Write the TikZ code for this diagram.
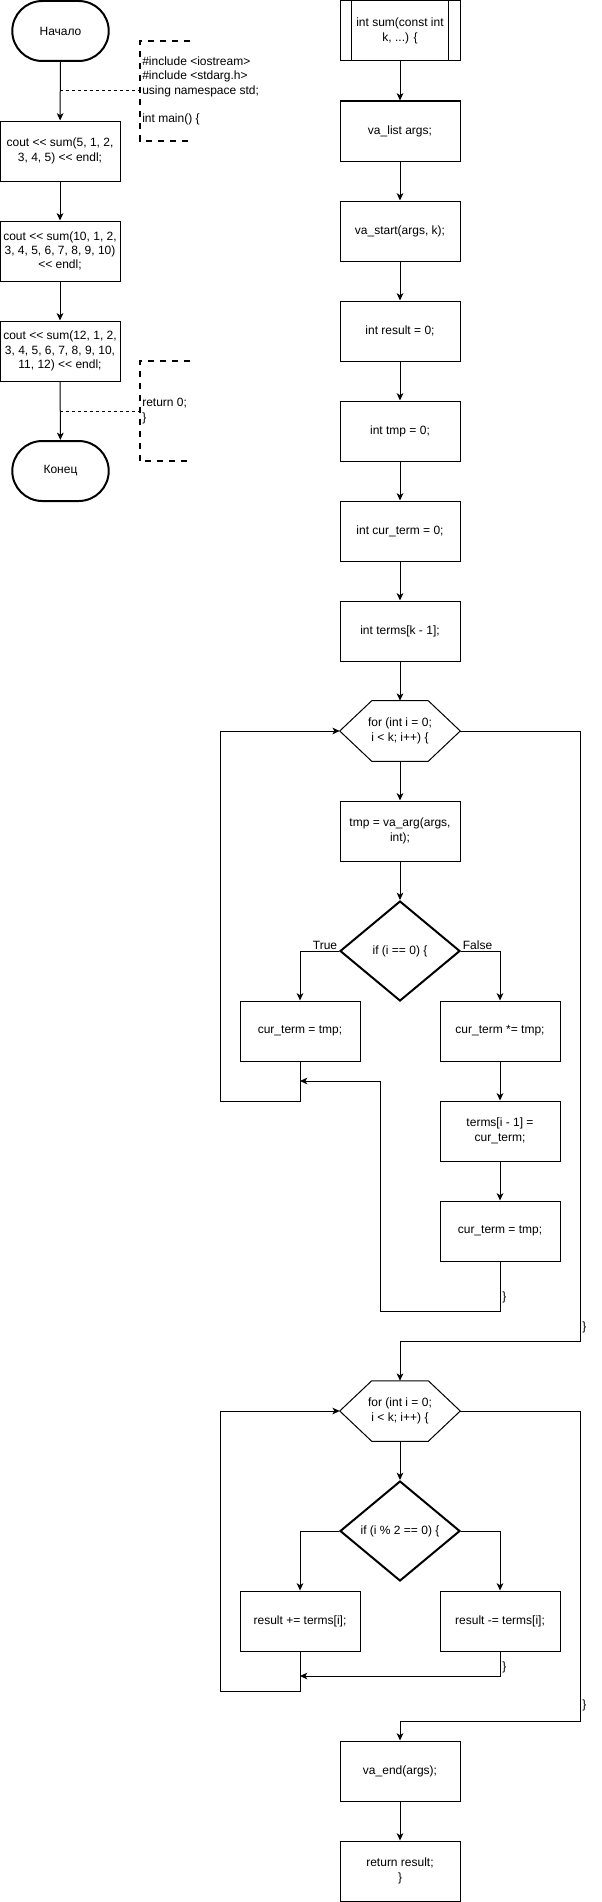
\documentclass[tikz,border=0pt]{standalone}
\usepackage{fontspec}
\setmainfont{Liberation Sans}
\usetikzlibrary{positioning, arrows.meta, shapes.geometric, shapes.misc}
\tikzset{
  every node/.style={font=\fontsize{9}{10.8}\selectfont},
  arr/.style={-{Stealth[length=5.5pt, width=5pt, inset=1.5pt]}, line width=0.75pt},
  dots/.style={line width=0.75pt, dash pattern=on 2.25pt off 2.25pt},
  blk/.style={draw, line width=0.75pt, minimum width=90pt, minimum height=45pt, inner sep=2pt, align=center},
  term/.style={draw, rounded rectangle, line width=1.5pt, minimum width=79pt, minimum height=45pt, align=center},
  cond/.style={draw, diamond, line width=1.5pt, minimum width=90pt, minimum height=75pt, inner sep=0pt, align=center},
  loopbox/.style={minimum width=90pt, minimum height=45pt, inner sep=0pt, align=center},
  note/.style={anchor=west, align=left, inner xsep=1.5pt, inner ysep=0pt},
  noteline/.style={line width=1.5pt, dash pattern=on 4.5pt off 4.5pt},
  brace/.style={anchor=west, inner sep=1.5pt},
}
\newcommand{\shl}{<{}<}
\newcommand{\hexa}[1]{\draw[line width=0.75pt] (#1.west) -- ([xshift=24pt]#1.north west)
  -- ([xshift=-24pt]#1.north east) -- (#1.east) -- ([xshift=-24pt]#1.south east)
  -- ([xshift=24pt]#1.south west) -- cycle;}
\newcommand{\subbars}[1]{\draw[line width=0.75pt] ([xshift=9pt]#1.north west) -- ([xshift=9pt]#1.south west)
  ([xshift=-9pt]#1.north east) -- ([xshift=-9pt]#1.south east);}

\begin{document}
\begin{tikzpicture}[x=0.75pt, y=-0.75pt]
  \useasboundingbox (0,0) rectangle (601,1902);
  % main()
  \node[term] (start) at (60.5,31) {Начало};
  \node[blk] (out1) at (60,151) {cout \shl{} sum(5, 1, 2,\\ 3, 4, 5) \shl{} endl;};
  \node[blk] (out2) at (60,251) {cout \shl{} sum(10, 1, 2,\\ 3, 4, 5, 6, 7, 8, 9, 10)\\ \shl{} endl;};
  \node[blk] (out3) at (60,351) {cout \shl{} sum(12, 1, 2,\\ 3, 4, 5, 6, 7, 8, 9, 10,\\ 11, 12) \shl{} endl;};
  \node[term] (stop) at (60.5,471) {Конец};
  \draw[arr] (start) -- (out1); \draw[arr] (out1) -- (out2);
  \draw[arr] (out2) -- (out3); \draw[arr] (out3) -- (stop);
  % comments beside main()
  \node[note, minimum height=74.25pt] (inc) at (140,91) {\#include <iostream>\\ \#include <stdarg.h>\\ using namespace std;\\ \mbox{}\\ int main() \{};
  \node[note, minimum height=75pt] (ret) at (140,411) {return 0;\\ \}};
  \draw[noteline] ([xshift=37.5pt]inc.north west) -| (inc.south west) -- ++(50,0);
  \draw[noteline] ([xshift=37.5pt]ret.north west) -| (ret.south west) -- ++(50,0);
  \coordinate (tap1) at (60,91);
  \coordinate (tap2) at (60,411);
  \draw[dots] (tap1) -- (inc.west); \draw[dots] (tap2) -- (ret.west);
  % sum()
  \node[blk] (fn)  at (400,31)  {int sum(const int\\ k, ...) \{};
  \subbars{fn}
  \node[blk] (lst) at (400,131) {va\_list args;};
  \node[blk] (vst) at (400,231) {va\_start(args, k);};
  \node[blk] (res) at (400,331) {int result = 0;};
  \node[blk] (tmp) at (400,431) {int tmp = 0;};
  \node[blk] (cur) at (400,531) {int cur\_term = 0;};
  \node[blk] (trm) at (400,631) {int terms[k - 1];};
  % first loop
  \node[loopbox] (for1) at (400,731) {for (int i = 0;\\ i < k; i++) \{};
  \hexa{for1}
  \node[blk] (arg)  at (400,831)  {tmp = va\_arg(args,\\ int);};
  \node[cond] (if1) at (400,951)  {if (i == 0) \{};
  \node[blk] (set)  at (300,1031) {cur\_term = tmp;};
  \node[blk] (mul)  at (500,1031) {cur\_term *= tmp;};
  \node[blk] (put)  at (500,1131) {terms[i - 1] =\\ cur\_term;};
  \node[blk] (set2) at (500,1231) {cur\_term = tmp;};
  \coordinate (join1) at (300,1081);
  \node[brace] (cl1) at (500,1297) {\}};
  \node[brace] (cl2) at (580,1327) {\}};
  % second loop
  \node[loopbox] (for2) at (400,1411) {for (int i = 0;\\ i < k; i++) \{};
  \hexa{for2}
  \node[cond] (if2) at (400,1531) {if (i \% 2 == 0) \{};
  \node[blk] (add)  at (300,1621) {result += terms[i];};
  \node[blk] (sub)  at (500,1621) {result -= terms[i];};
  \coordinate (join2) at (300,1676);
  \node[brace] (cl3) at (500,1667) {\}};
  \node[brace] (cl4) at (580,1705) {\}};
  \node[blk] (vend) at (400,1771) {va\_end(args);};
  \node[blk] (back) at (400,1871) {return result;\\ \}};
  % straight arrows
  \draw[arr] (fn) -- (lst); \draw[arr] (lst) -- (vst); \draw[arr] (vst) -- (res);
  \draw[arr] (res) -- (tmp); \draw[arr] (tmp) -- (cur); \draw[arr] (cur) -- (trm);
  \draw[arr] (trm) -- (for1); \draw[arr] (for1) -- (arg); \draw[arr] (arg) -- (if1);
  \draw[arr] (mul) -- (put); \draw[arr] (put) -- (set2);
  \draw[arr] (for2) -- (if2); \draw[arr] (vend) -- (back);
  % branches and loop backs
  \draw[arr] (if1.west) node[anchor=south east, inner sep=1pt] (yes) {True} -| (set);
  \draw[arr] (if1.east) node[anchor=south west, inner sep=1pt] (no) {False} -| (mul);
  \draw[arr] (set2.south) |- (380,1311) |- (join1);
  \draw[arr] (set.south) |- (220,1101) |- (for1.west);
  \draw[arr] (for1.east) -| (580,1341) -| (for2.north);
  \draw[arr] (if2.west) -| (add); \draw[arr] (if2.east) -| (sub);
  \draw[arr] (sub.south) |- (join2);
  \draw[arr] (add.south) |- (220,1691) |- (for2.west);
  \draw[arr] (for2.east) -| (580,1721) -| (vend.north);
\end{tikzpicture}
\end{document}
